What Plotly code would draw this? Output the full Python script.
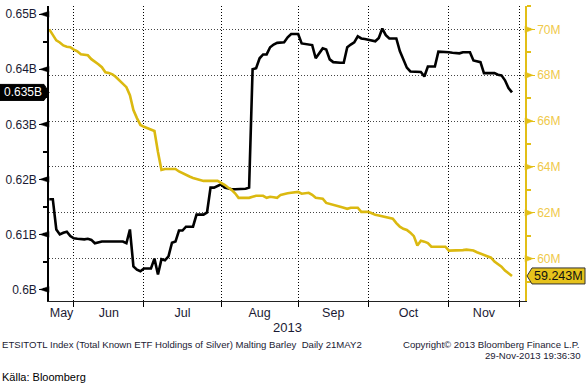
import pandas as pd
import plotly.graph_objects as go

# ---------------- data ----------------
holidays = ["2013-05-27", "2013-07-04", "2013-09-02", "2013-11-28"]
first_day = "2013-05-22"
last_day = "2013-11-27"

# Total Known ETF Holdings of Silver (left axis, billions of oz)
etf_may = [0.6164, 0.6164, 0.6109, 0.6100, 0.6103, 0.6105, 0.6097]
etf_jun = [0.6093, 0.6092, 0.6091, 0.6091, 0.6092, 0.6090, 0.6084, 0.6086, 0.6087, 0.6087,
           0.6087, 0.6087, 0.6087, 0.6087, 0.6087, 0.6084, 0.6109, 0.6042, 0.6036, 0.6033]
etf_jul = [0.6038, 0.6038, 0.6038, 0.6056, 0.6027, 0.6055, 0.6053, 0.6060, 0.6085, 0.6087,
           0.6107, 0.6107, 0.6114, 0.6114, 0.6114, 0.6136, 0.6136, 0.6136, 0.6140, 0.6185,
           0.6185, 0.6188]
etf_aug = [0.6191, 0.6185, 0.6183, 0.6182, 0.6182, 0.6182, 0.6182, 0.6183, 0.6185, 0.6400,
           0.6402, 0.6420, 0.6427, 0.6427, 0.6440, 0.6445, 0.6448, 0.6448, 0.6449, 0.6458,
           0.6464, 0.6464]
etf_sep = [0.6464, 0.6447, 0.6446, 0.6445, 0.6444, 0.6420, 0.6430, 0.6438, 0.6436, 0.6418,
           0.6413, 0.6412, 0.6412, 0.6412, 0.6440, 0.6445, 0.6449, 0.6460, 0.6456, 0.6455]
etf_oct = [0.6454, 0.6453, 0.6451, 0.6457, 0.6474, 0.6462, 0.6456, 0.6456, 0.6456, 0.6433,
           0.6418, 0.6403, 0.6396, 0.6396, 0.6395, 0.6395, 0.6387, 0.6405, 0.6405, 0.6405,
           0.6432, 0.6432, 0.6432]
etf_nov = [0.6431, 0.6430, 0.6429, 0.6429, 0.6431, 0.6431, 0.6431, 0.6416, 0.6414, 0.6413,
           0.6393, 0.6393, 0.6393, 0.6393, 0.6390, 0.6389, 0.6380, 0.6366, 0.6358]

# Malting Barley (right axis, millions)
barley_may = [70.00, 69.74, 69.52, 69.43, 69.30, 69.24, 69.22]
barley_jun = [69.12, 69.04, 68.91, 68.88, 68.87, 68.70, 68.60, 68.48, 68.35, 68.13,
              68.10, 68.04, 67.92, 67.78, 67.65, 67.48, 67.13, 66.48, 66.13, 65.83]
barley_jul = [65.75, 65.70, 65.65, 65.57, 64.65, 63.87, 63.91, 63.91, 63.91, 63.91,
              63.80, 63.72, 63.65, 63.58, 63.52, 63.48, 63.43, 63.39, 63.39, 63.39,
              63.39, 63.39]
barley_aug = [63.30, 63.22, 63.10, 63.00, 62.85, 62.65, 62.65, 62.65, 62.65, 62.70,
              62.74, 62.74, 62.74, 62.65, 62.70, 62.68, 62.65, 62.78, 62.83, 62.85,
              62.87, 62.90]
barley_sep = [62.91, 62.83, 62.85, 62.87, 62.78, 62.65, 62.63, 62.61, 62.43, 62.38,
              62.34, 62.30, 62.26, 62.22, 62.17, 62.22, 62.22, 62.22, 62.04, 62.04]
barley_oct = [62.04, 61.98, 61.91, 61.88, 61.85, 61.83, 61.78, 61.74, 61.55, 61.39,
              61.30, 61.25, 61.13, 60.98, 60.57, 60.78, 60.74, 60.68, 60.52, 60.52,
              60.52, 60.52, 60.52]
barley_nov = [60.35, 60.35, 60.35, 60.35, 60.37, 60.39, 60.37, 60.35, 60.28, 60.22,
              60.15, 60.09, 60.04, 59.87, 59.76, 59.65, 59.48, 59.37, 59.243]

month_labels = ["May", "Jun", "Jul", "Aug", "Sep", "Oct", "Nov"]
left_tick_values = [0.60, 0.61, 0.62, 0.63, 0.64, 0.65]
left_tick_labels = ["0.6B", "0.61B", "0.62B", "0.63B", "0.64B", "0.65B"]
right_tick_values = [60, 62, 64, 66, 68, 70]
right_tick_labels = ["60M", "62M", "64M", "66M", "68M", "70M"]
last_etf_label = "0.635B"
last_barley_label = "59.243M"

footer_left = "ETSITOTL Index (Total Known ETF Holdings of Silver) Malting Barley \u00a0Daily 21MAY2"
footer_copyright = "Copyright\u00a9 2013 Bloomberg Finance L.P."
footer_stamp = "29-Nov-2013 19:36:30"
source_text = "K\u00e4lla: Bloomberg"
year_text = "2013"

# ---------------- assemble ----------------
etf_holdings_b = etf_may + etf_jun + etf_jul + etf_aug + etf_sep + etf_oct + etf_nov
malting_barley_m = barley_may + barley_jun + barley_jul + barley_aug + barley_sep + barley_oct + barley_nov
dates = pd.bdate_range(first_day, last_day, freq="C", holidays=holidays)
assert len(dates) == len(etf_holdings_b) == len(malting_barley_m)

# trading calendar used for the month grid (month starts) and centred month labels
cal = pd.bdate_range(first_day, "2013-12-02", freq="C", holidays=holidays)
cal_s = pd.Series(cal, index=cal)
month_starts = [d.strftime("%Y-%m-%d") for d in cal_s.groupby(cal.to_period("M")).first().iloc[1:]]
label_pos = []
for per, grp in cal_s.groupby(cal.to_period("M")):
    if per.month == 12:
        continue
    n = len(grp)
    c = grp.iloc[n // 2] + (pd.Timedelta(hours=12) if n % 2 else pd.Timedelta(0))
    label_pos.append(c.strftime("%Y-%m-%d %H:%M"))

BLACK = "#000000"
YELLOW_LINE = "#dbb910"
YELLOW_AXIS = "#e3bf16"
YELLOW_TEXT = "#efc94a"
TEXT = "#1a1a33"
FONT = "Arial, Liberation Sans, sans-serif"

fig = go.Figure()
fig.add_trace(go.Scatter(x=dates, y=malting_barley_m, yaxis="y2", mode="lines",
                         line=dict(color=YELLOW_LINE, width=2.6), hoverinfo="skip"))
fig.add_trace(go.Scatter(x=dates, y=etf_holdings_b, yaxis="y", mode="lines",
                         line=dict(color=BLACK, width=2.6), hoverinfo="skip"))

fig.update_layout(
    width=586, height=386,
    margin=dict(l=49, r=61, t=6, b=85),
    paper_bgcolor="white", plot_bgcolor="white",
    showlegend=False,
    font=dict(family=FONT, size=12, color=TEXT),
    xaxis=dict(
        type="date",
        range=["2013-05-21 22:00", "2013-12-03 17:00"],
        rangebreaks=[dict(bounds=["sat", "mon"]), dict(values=holidays)],
        tickmode="array", tickvals=label_pos, ticktext=month_labels,
        ticks="", showgrid=False, zeroline=False,
        showline=True, linecolor="#222", linewidth=1.2,
        tickfont=dict(family=FONT, size=12.5, color=TEXT),
        minor=dict(tickmode="array", tickvals=month_starts, ticks="outside", ticklen=5,
                   tickwidth=1.2, tickcolor="#000", showgrid=True, gridcolor="#000",
                   gridwidth=1, griddash="1px,2px"),
    ),
    yaxis=dict(
        range=[0.5979, 0.6515],
        tickmode="array", tickvals=left_tick_values, ticktext=left_tick_labels,
        ticks="outside", ticklen=8, tickwidth=1, tickcolor=BLACK,
        showgrid=False, zeroline=False,
        showline=True, linecolor=BLACK, linewidth=1.5,
        tickfont=dict(family=FONT, size=12, color=TEXT),
        minor=dict(tickmode="linear", tick0=0.595, dtick=0.005, ticks="outside",
                   ticklen=4, tickwidth=1.5, tickcolor=BLACK, showgrid=False),
    ),
    yaxis2=dict(
        range=[58.15, 71.02], overlaying="y", side="right",
        tickmode="array", tickvals=right_tick_values, ticktext=right_tick_labels,
        ticks="outside", ticklen=8, tickwidth=1, tickcolor=YELLOW_AXIS,
        showgrid=True, gridcolor="#444", gridwidth=1, griddash="1px,2px",
        zeroline=False, showline=True, linecolor=YELLOW_AXIS, linewidth=1.5,
        tickfont=dict(family=FONT, size=12, color=YELLOW_TEXT),
        minor=dict(tickmode="linear", tick0=59, dtick=1, ticks="outside",
                   ticklen=4, tickwidth=1.5, tickcolor=YELLOW_AXIS, showgrid=False),
    ),
)

shapes = []
# triangular tick markers on both value axes
for v in left_tick_values:
    shapes.append(dict(type="path", xref="paper", xsizemode="pixel", xanchor=0,
                       yref="y", ysizemode="pixel", yanchor=v,
                       path="M 0,-3 L -9,0 L 0,3 Z", fillcolor=BLACK,
                       line=dict(color=BLACK, width=0.5), layer="above"))
for v in right_tick_values:
    shapes.append(dict(type="path", xref="paper", xsizemode="pixel", xanchor=1,
                       yref="y2", ysizemode="pixel", yanchor=v,
                       path="M 0,-3.2 L 8,0 L 0,3.2 Z", fillcolor=YELLOW_AXIS,
                       line=dict(color=YELLOW_AXIS, width=0.5), layer="above"))
# last-value tags
shapes.append(dict(type="path", xref="paper", xsizemode="pixel", xanchor=0,
                   yref="y", ysizemode="pixel", yanchor=etf_holdings_b[-1],
                   path="M -49,-8 L -5,-8 L 0,0 L -5,8 L -49,8 Z",
                   fillcolor=BLACK, line=dict(color=BLACK, width=1)))
shapes.append(dict(type="path", xref="paper", xsizemode="pixel", xanchor=1,
                   yref="y2", ysizemode="pixel", yanchor=malting_barley_m[-1],
                   path="M 2,0 L 7,-8 L 60,-8 L 60,8 L 7,8 Z",
                   fillcolor="#e6c21c", line=dict(color="#333", width=1)))
fig.update_layout(shapes=shapes)

W, H, L, T = 476.0, 295.0, 49.0, 6.0
def px(xp):
    return (xp - L) / W
def py(yp):
    return (T + H - yp) / H

ann = [
    dict(text=last_etf_label, xref="paper", x=px(23), xanchor="center",
         yref="y", y=etf_holdings_b[-1], yanchor="middle", showarrow=False,
         font=dict(family=FONT, size=12, color="white")),
    dict(text=last_barley_label, xref="paper", x=px(558.5), xanchor="center",
         yref="y2", y=malting_barley_m[-1], yanchor="middle", showarrow=False,
         font=dict(family=FONT, size=12.5, color="#111")),
    dict(text=year_text, xref="paper", x=px(287), xanchor="center",
         yref="paper", y=py(327), yanchor="middle", showarrow=False,
         font=dict(family=FONT, size=13, color=TEXT)),
    dict(text=footer_left, xref="paper", x=px(0), xanchor="left",
         yref="paper", y=py(344), yanchor="middle", showarrow=False,
         font=dict(family=FONT, size=9.6, color=TEXT)),
    dict(text=footer_copyright, xref="paper", x=px(582), xanchor="right",
         yref="paper", y=py(344), yanchor="middle", showarrow=False,
         font=dict(family=FONT, size=9.6, color=TEXT)),
    dict(text=footer_stamp, xref="paper", x=px(582), xanchor="right",
         yref="paper", y=py(355.5), yanchor="middle", showarrow=False,
         font=dict(family=FONT, size=9.6, color=TEXT)),
    dict(text=source_text, xref="paper", x=px(0), xanchor="left",
         yref="paper", y=py(377), yanchor="middle", showarrow=False,
         font=dict(family=FONT, size=11, color="#000")),
]
fig.update_layout(annotations=ann)

fig.write_html("out.html", config={"displayModeBar": False},
               post_script="document.body.style.margin='0px';")
